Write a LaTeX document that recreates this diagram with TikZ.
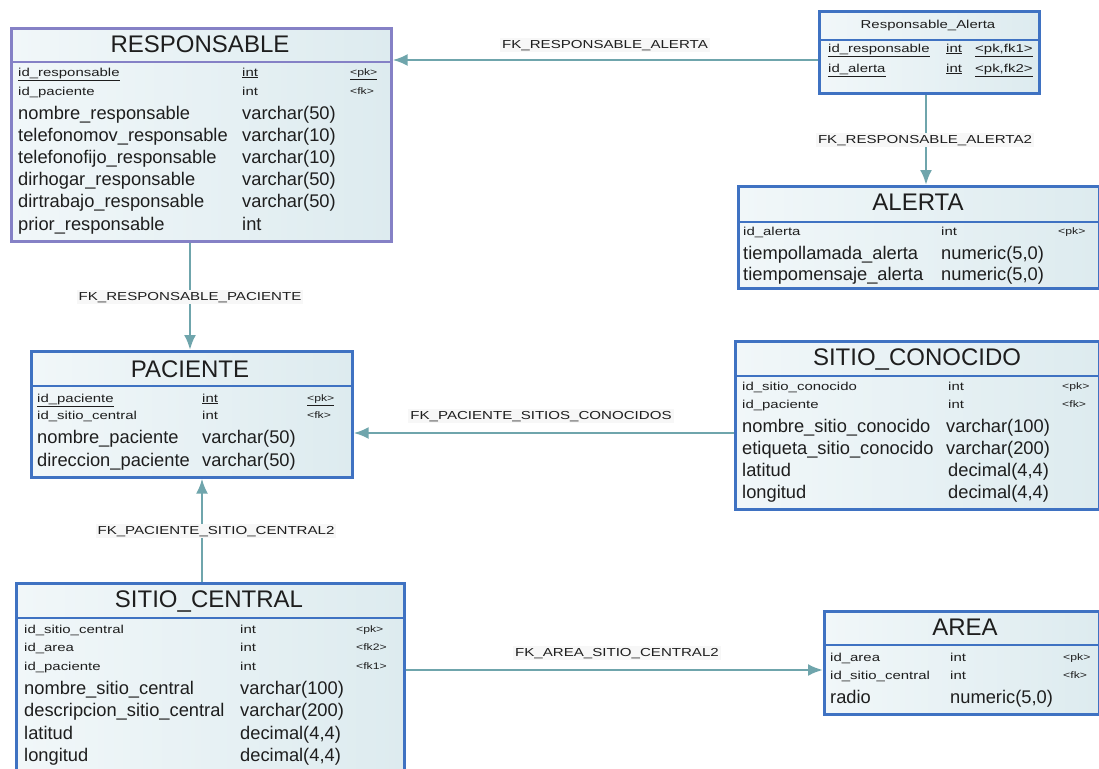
\documentclass[tikz,border=0pt]{standalone}
\usepackage{fontspec}
\setmainfont{Liberation Sans}
\newfontfamily\smallf[FakeStretch=1.3]{Liberation Sans}
\usetikzlibrary{arrows.meta}
\definecolor{bdblue}{HTML}{3F72C2}
\definecolor{bdpurp}{HTML}{8581C6}
\definecolor{bgl}{HTML}{F1F7F9}
\definecolor{bgr}{HTML}{DDEBEF}
\definecolor{fkc}{HTML}{6FA5AC}
\definecolor{txt}{HTML}{1E1E1E}
\tikzset{
  tbl/.style={draw=bdblue, line width=2.6pt, left color=bgl, right color=bgr, anchor=north west, inner sep=0pt},
  sepline/.style={draw=bdblue, line width=2.4pt},
  rs/.style={anchor=west, inner sep=0pt, text=txt, text height=8.5pt, text depth=2.3pt, font=\smallf\fontsize{11.5}{12}\selectfont},
  rl/.style={anchor=west, inner sep=0pt, text=txt, text height=13.5pt, text depth=3.5pt, font=\fontsize{18.3}{19}\selectfont},
  rk/.style={anchor=west, inner sep=0pt, text=txt, text height=7pt, text depth=1.9pt, font=\smallf\fontsize{9.4}{10}\selectfont},
  ttl/.style={inner sep=0pt, text=txt, text height=17.2pt, text depth=0pt, font=\fontsize{24}{25}\selectfont},
  fk/.style={draw=fkc, line width=2.6pt, -{Latex[length=15pt,width=12pt]}},
  lbl/.style={fill=white!94!gray, inner sep=2pt, text=txt, text height=8.5pt, text depth=2.3pt, font=\smallf\fontsize{11.6}{12}\selectfont}
}
\begin{document}
\begin{tikzpicture}[x=1pt,y=-1pt]
\useasboundingbox[fill=white] (0,0) rectangle (1099,768);

% ---------------- RESPONSABLE
\node[tbl, draw=bdpurp, minimum width=380pt, minimum height=213pt] (resp) at (10,27) {};
\draw[sepline, draw=bdpurp] (10,62) -- (390,62);
\node[ttl] (respT) at (200,44) {RESPONSABLE};
\node[rs] (r1a) at (18,73) {\underline{id\_responsable}};
\node[rs] (r1b) at (242,73) {\underline{int}};
\node[rk] (r1c) at (350,73) {\underline{<pk>}};
\node[rs] (r2a) at (18,92) {id\_paciente};
\node[rs] (r2b) at (242,92) {int};
\node[rk] (r2c) at (350,92) {<fk>};
\node[rl] (r3a) at (18,114) {nombre\_responsable};
\node[rl] (r3b) at (242,114) {varchar(50)};
\node[rl] (r4a) at (18,136) {telefonomov\_responsable};
\node[rl] (r4b) at (242,136) {varchar(10)};
\node[rl] (r5a) at (18,158) {telefonofijo\_responsable};
\node[rl] (r5b) at (242,158) {varchar(10)};
\node[rl] (r6a) at (18,180) {dirhogar\_responsable};
\node[rl] (r6b) at (242,180) {varchar(50)};
\node[rl] (r7a) at (18,202) {dirtrabajo\_responsable};
\node[rl] (r7b) at (242,202) {varchar(50)};
\node[rl] (r8a) at (18,225) {prior\_responsable};
\node[rl] (r8b) at (242,225) {int};

% ---------------- Responsable_Alerta
\node[tbl, minimum width=220pt, minimum height=82pt] (ra) at (818,10) {};
\draw[sepline] (818,40) -- (1038,40);
\node[rs] (raT) at (928,25) [anchor=center] {Responsable\_Alerta};
\node[rs] (ra1a) at (828,49) {\underline{id\_responsable}};
\node[rs] (ra1b) at (946,49) {\underline{int}};
\node[rs] (ra1c) at (975,49) {\underline{<pk,fk1>}};
\node[rs] (ra2a) at (828,69) {\underline{id\_alerta}};
\node[rs] (ra2b) at (946,69) {\underline{int}};
\node[rs] (ra2c) at (975,69) {\underline{<pk,fk2>}};

% ---------------- ALERTA
\node[tbl, minimum width=361pt, minimum height=102pt] (al) at (737,185) {};
\draw[sepline] (737,222) -- (1098,222);
\node[ttl] (alT) at (918,202) {ALERTA};
\node[rs] (al1a) at (743,232) {id\_alerta};
\node[rs] (al1b) at (941,232) {int};
\node[rk] (al1c) at (1058,232) {<pk>};
\node[rl] (al2a) at (743,254) {tiempollamada\_alerta};
\node[rl] (al2b) at (941,254) {numeric(5,0)};
\node[rl] (al3a) at (743,275) {tiempomensaje\_alerta};
\node[rl] (al3b) at (941,275) {numeric(5,0)};

% ---------------- PACIENTE
\node[tbl, minimum width=321pt, minimum height=126pt] (pac) at (30,350) {};
\draw[sepline] (30,386) -- (351,386);
\node[ttl] (pacT) at (190,369) {PACIENTE};
\node[rs] (p1a) at (37,399) {\underline{id\_paciente}};
\node[rs] (p1b) at (202,399) {\underline{int}};
\node[rk] (p1c) at (307,399) {\underline{<pk>}};
\node[rs] (p2a) at (37,416) {id\_sitio\_central};
\node[rs] (p2b) at (202,416) {int};
\node[rk] (p2c) at (307,416) {<fk>};
\node[rl] (p3a) at (37,438) {nombre\_paciente};
\node[rl] (p3b) at (202,438) {varchar(50)};
\node[rl] (p4a) at (37,461) {direccion\_paciente};
\node[rl] (p4b) at (202,461) {varchar(50)};

% ---------------- SITIO_CONOCIDO
\node[tbl, minimum width=364pt, minimum height=168pt] (sco) at (734,340) {};
\draw[sepline] (734,376) -- (1098,376);
\node[ttl] (scoT) at (917,357) {SITIO\_CONOCIDO};
\node[rs] (s1a) at (742,387) {id\_sitio\_conocido};
\node[rs] (s1b) at (948,387) {int};
\node[rk] (s1c) at (1062,387) {<pk>};
\node[rs] (s2a) at (742,405) {id\_paciente};
\node[rs] (s2b) at (948,405) {int};
\node[rk] (s2c) at (1062,405) {<fk>};
\node[rl] (s3a) at (742,427) {nombre\_sitio\_conocido};
\node[rl] (s3b) at (946,427) {varchar(100)};
\node[rl] (s4a) at (742,449) {etiqueta\_sitio\_conocido};
\node[rl] (s4b) at (946,449) {varchar(200)};
\node[rl] (s5a) at (742,471) {latitud};
\node[rl] (s5b) at (948,471) {decimal(4,4)};
\node[rl] (s6a) at (742,493) {longitud};
\node[rl] (s6b) at (948,493) {decimal(4,4)};

% ---------------- SITIO_CENTRAL
\node[tbl, minimum width=388pt, minimum height=195pt] (sce) at (15,582) {};
\draw[sepline] (15,618) -- (403,618);
\node[ttl] (sceT) at (209,599) {SITIO\_CENTRAL};
\node[rs] (c1a) at (24,630) {id\_sitio\_central};
\node[rs] (c1b) at (240,630) {int};
\node[rk] (c1c) at (356,630) {<pk>};
\node[rs] (c2a) at (24,648) {id\_area};
\node[rs] (c2b) at (240,648) {int};
\node[rk] (c2c) at (356,648) {<fk2>};
\node[rs] (c3a) at (24,667) {id\_paciente};
\node[rs] (c3b) at (240,667) {int};
\node[rk] (c3c) at (356,667) {<fk1>};
\node[rl] (c4a) at (24,689) {nombre\_sitio\_central};
\node[rl] (c4b) at (240,689) {varchar(100)};
\node[rl] (c5a) at (24,711) {descripcion\_sitio\_central};
\node[rl] (c5b) at (240,711) {varchar(200)};
\node[rl] (c6a) at (24,734) {latitud};
\node[rl] (c6b) at (240,734) {decimal(4,4)};
\node[rl] (c7a) at (24,756) {longitud};
\node[rl] (c7b) at (240,756) {decimal(4,4)};

% ---------------- AREA
\node[tbl, minimum width=275pt, minimum height=103pt] (ar) at (823,610) {};
\draw[sepline] (823,645) -- (1098,645);
\node[ttl] (arT) at (965,627) {AREA};
\node[rs] (a1a) at (830,658) {id\_area};
\node[rs] (a1b) at (950,658) {int};
\node[rk] (a1c) at (1063,658) {<pk>};
\node[rs] (a2a) at (830,676) {id\_sitio\_central};
\node[rs] (a2b) at (950,676) {int};
\node[rk] (a2c) at (1063,676) {<fk>};
\node[rl] (a3a) at (830,698) {radio};
\node[rl] (a3b) at (950,698) {numeric(5,0)};

% ---------------- connectors
\draw[fk] (ra.west |- 0,60) -- (resp.east |- 0,60);
\node[lbl] (l1) at (605,45) {FK\_RESPONSABLE\_ALERTA};

\draw[fk] (ra.south -| 926,0) -- (al.north -| 926,0);
\node[lbl] (l2) at (925,140) {FK\_RESPONSABLE\_ALERTA2};

\draw[fk] (resp.south -| 190,0) -- (pac.north -| 190,0);
\node[lbl] (l3) at (190,297) {FK\_RESPONSABLE\_PACIENTE};

\draw[fk] (sco.west |- 0,433) -- (pac.east |- 0,433);
\node[lbl] (l4) at (541,416) {FK\_PACIENTE\_SITIOS\_CONOCIDOS};

\draw[fk] (sce.north -| 202,0) -- (pac.south -| 202,0);
\node[lbl] (l5) at (216,531) {FK\_PACIENTE\_SITIO\_CENTRAL2};

\draw[fk] (sce.east |- 0,670) -- (ar.west |- 0,670);
\node[lbl] (l6) at (617,653) {FK\_AREA\_SITIO\_CENTRAL2};
\end{tikzpicture}
\end{document}
